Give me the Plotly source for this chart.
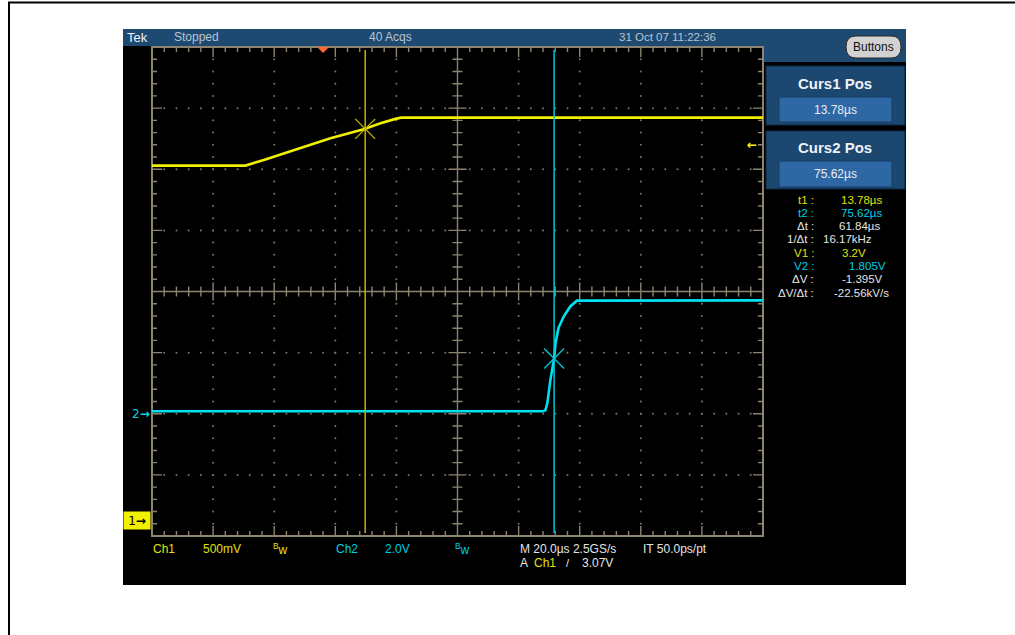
import plotly.graph_objects as go

# ---- captured waveforms -------------------------------------------------
# Channel 1 (yellow, 500 mV/div): time in microseconds, level in volts
ch1_time_us = [-56.0, -25.4, -19.4, -8.5, 2.4, 13.3, 18.8, 23.7, 25.5, 144.0]
ch1_volts = [2.90, 2.90, 2.946, 3.034, 3.124, 3.197, 3.246, 3.282, 3.292, 3.292]

# Channel 2 (cyan, 2.0 V/div)
ch2_time_us = [-56.0, 72.0, 72.8, 73.4, 74.4, 75.6, 76.1, 77.1, 78.8, 80.9, 83.1, 144.0]
ch2_volts = [0.08, 0.08, 0.12, 0.35, 1.10, 1.80, 2.32, 2.82, 3.19, 3.51, 3.70, 3.71]

# Cursors (t1, t2) and the levels they read (V1 on ch1, V2 on ch2)
cursor_times_us = [13.78, 75.62]
cursor_volts = [3.2, 1.805]

# Trigger
trigger_time_us = 0.0
trigger_level_v = 3.07

# Acquisition settings
ch1_v_per_div = 0.5
ch2_v_per_div = 2.0
time_per_div_us = 20.0
acq_count = 40
timestamp = "31 Oct 07 11:22:36"
sample_rate = "2.5GS/s"
interp = "IT 50.0ps/pt"

# ---- axes ---------------------------------------------------------------
X_RANGE = [-56.0, -56.0 + 10 * time_per_div_us]
CH1_RANGE = [-0.13, -0.13 + 8 * ch1_v_per_div]
CH2_RANGE = [-4.0, -4.0 + 8 * ch2_v_per_div]

W, H = 1015, 635
PL, PT, PR, PB = 152, 47, 763, 536          # graticule box in pixels


def px(x):
    return (x - PL) / (PR - PL)


def py(y):
    return (PB - y) / (PB - PT)


def gx(d):
    return X_RANGE[0] + d * (X_RANGE[1] - X_RANGE[0]) / 10


def gy(d):
    return CH1_RANGE[0] + d * (CH1_RANGE[1] - CH1_RANGE[0]) / 8


YEL = "#f0f000"
YEL_TXT = "#e0e010"
YEL_CUR = "#c8b400"
CYN = "#00e0f0"
CYN_TXT = "#00d0e0"
CYN_CUR = "#00c8d8"
WHT = "#e4e4e4"
GRAT = "#8c8470"
BAR = "#1e4a72"
BOX = "#1c4770"
VALBOX = "#2e68a4"
FONT = "Liberation Sans, Arial, sans-serif"

fig = go.Figure()

# dotted division lines
dots_x, dots_y = [], []
for k in range(1, 10):
    if k == 5:
        continue
    for j in range(1, 40):
        dots_x.append(gx(k))
        dots_y.append(gy(j / 5))
for j in range(1, 8):
    if j == 4:
        continue
    for k in range(1, 50):
        dots_x.append(gx(k / 5))
        dots_y.append(gy(j))
fig.add_trace(go.Scatter(x=dots_x, y=dots_y, mode="markers",
                         marker=dict(size=2, color="#7c7662"),
                         hoverinfo="skip", yaxis="y"))

# waveforms
fig.add_trace(go.Scatter(x=ch1_time_us, y=ch1_volts, mode="lines",
                         line=dict(color=YEL, width=2.6), yaxis="y", name="Ch1"))
fig.add_trace(go.Scatter(x=ch2_time_us, y=ch2_volts, mode="lines",
                         line=dict(color=CYN, width=2.6), yaxis="y2", name="Ch2"))

# cursor cross marks
fig.add_trace(go.Scatter(x=[cursor_times_us[0]], y=[cursor_volts[0]], mode="markers",
                         marker=dict(symbol="x-thin", size=20,
                                     line=dict(color=YEL_CUR, width=1.3)),
                         yaxis="y", cliponaxis=False))
fig.add_trace(go.Scatter(x=[cursor_times_us[1]], y=[cursor_volts[1]], mode="markers",
                         marker=dict(symbol="x-thin", size=20,
                                     line=dict(color=CYN_CUR, width=1.3)),
                         yaxis="y2", cliponaxis=False))

shapes = []
# page frame
shapes.append(dict(type="line", xref="paper", yref="paper", x0=px(8), x1=px(1016),
                   y0=py(2.5), y1=py(2.5), line=dict(color="black", width=2)))
shapes.append(dict(type="line", xref="paper", yref="paper", x0=px(9), x1=px(9),
                   y0=py(2), y1=py(636), line=dict(color="black", width=2)))
# scope screen
shapes.append(dict(type="rect", xref="paper", yref="paper", x0=px(123), x1=px(906),
                   y0=py(585), y1=py(29), fillcolor="black", line=dict(width=0),
                   layer="below"))
# title bar and side panel header
shapes.append(dict(type="rect", xref="paper", yref="paper", x0=px(123), x1=px(906),
                   y0=py(46), y1=py(29), fillcolor=BAR, line=dict(width=0), layer="below"))
shapes.append(dict(type="rect", xref="paper", yref="paper", x0=px(764), x1=px(906),
                   y0=py(62), y1=py(45), fillcolor=BAR, line=dict(width=0), layer="below"))
# cursor readout boxes
for top, bot, vtop, vbot in [(66, 125, 97, 122), (131, 189, 161, 187)]:
    shapes.append(dict(type="rect", xref="paper", yref="paper", x0=px(766), x1=px(905),
                       y0=py(bot), y1=py(top), fillcolor=BOX,
                       line=dict(color="#0c2640", width=1), layer="below"))
    shapes.append(dict(type="rect", xref="paper", yref="paper", x0=px(779), x1=px(892),
                       y0=py(vbot), y1=py(vtop), fillcolor=VALBOX,
                       line=dict(color="#163c62", width=1), layer="below"))
# "Buttons" pill
bx0, bx1, by0, by1, r = 846, 901, 36, 58, 10
pill = (f"M{px(bx0 + r)},{py(by0)} L{px(bx1 - r)},{py(by0)} "
        f"Q{px(bx1)},{py(by0)} {px(bx1)},{py((by0 + by1) / 2)} "
        f"Q{px(bx1)},{py(by1)} {px(bx1 - r)},{py(by1)} "
        f"L{px(bx0 + r)},{py(by1)} "
        f"Q{px(bx0)},{py(by1)} {px(bx0)},{py((by0 + by1) / 2)} "
        f"Q{px(bx0)},{py(by0)} {px(bx0 + r)},{py(by0)} Z")
shapes.append(dict(type="path", xref="paper", yref="paper", path=pill,
                   fillcolor="#d2d2d2", line=dict(color="#2a2a2a", width=1)))

# graticule frame, centre cross and ticks
shapes.append(dict(type="rect", xref="paper", yref="paper", x0=0, x1=1, y0=0, y1=1,
                   line=dict(color=GRAT, width=2), layer="below"))
segs = []


def seg(x0, y0, x1, y1):
    segs.append(f"M{x0:.5f},{y0:.5f}L{x1:.5f},{y1:.5f}")


gw, gh = PR - PL, PB - PT
seg(0, 0.5, 1, 0.5)
seg(0.5, 0, 0.5, 1)
for k in range(1, 50):
    x = k / 50
    e = (10 if k % 5 == 0 else 5) / gh
    c = (9 if k % 5 == 0 else 5) / gh
    seg(x, 1, x, 1 - e)
    seg(x, 0, x, e)
    seg(x, 0.5 - c, x, 0.5 + c)
for j in range(1, 40):
    y = j / 40
    e = (10 if j % 5 == 0 else 5) / gw
    c = (9 if j % 5 == 0 else 5) / gw
    seg(0, y, e, y)
    seg(1, y, 1 - e, y)
    seg(0.5 - c, y, 0.5 + c, y)
shapes.append(dict(type="path", xref="paper", yref="paper", path=" ".join(segs),
                   line=dict(color=GRAT, width=1.4), layer="below"))

# cursor lines
for t, col in zip(cursor_times_us, [YEL_CUR, CYN_CUR]):
    shapes.append(dict(type="line", xref="x", yref="paper", x0=t, x1=t,
                       y0=py(533), y1=py(50), line=dict(color=col, width=1.5)))

# trigger position marker: 12 px wide, 6 px tall, hanging from the top edge
us_per_px = (X_RANGE[1] - X_RANGE[0]) / gw
tri_half = 6 * us_per_px
tri_h = 6 / gh
shapes.append(dict(type="path", xref="x", yref="paper",
                   path=f"M{trigger_time_us - tri_half},1 "
                        f"L{trigger_time_us + tri_half},1 "
                        f"L{trigger_time_us},{1 - tri_h} Z",
                   fillcolor="#ff6630", line=dict(width=0)))

# ---- text ---------------------------------------------------------------
ann = []


def text(s, x, y, color=WHT, size=12, xanchor="left", bold=False, **kw):
    if bold:
        s = f"<b>{s}</b>"
    d = dict(text=s, x=px(x), y=py(y), xref="paper", yref="paper",
             xanchor=xanchor, yanchor="middle", showarrow=False,
             font=dict(family=FONT, size=size, color=color))
    d.update(kw)
    ann.append(d)


# title bar
text("Tek", 125, 37.5, color="#eef2f8", size=13)
text("Stopped", 172, 37.5, color="#b8c4d2", size=12)
text(f"{acq_count} Acqs", 390, 37.5, color="#b8c4d2", size=12, xanchor="center")
text(timestamp, 667, 37.5, color="#b8c4d2", size=11.5, xanchor="center")
text("Buttons", (bx0 + bx1) / 2, 47, color="#101010", size=12, xanchor="center")

# cursor position boxes
text("Curs1 Pos", 835, 84, color="#eef2f8", size=15, xanchor="center", bold=True)
text(f"{cursor_times_us[0]:.2f}µs", 835.5, 110, color="#e8eef6", size=12, xanchor="center")
text("Curs2 Pos", 835, 148, color="#eef2f8", size=15, xanchor="center", bold=True)
text(f"{cursor_times_us[1]:.2f}µs", 835.5, 174, color="#e8eef6", size=12, xanchor="center")

# cursor readouts
t1, t2 = cursor_times_us
v1, v2 = cursor_volts
dt = t2 - t1
dv = v2 - v1
readouts = [
    ("t1 :", f"{t1:.2f}µs", YEL_TXT, 839),
    ("t2 :", f"{t2:.2f}µs", CYN_TXT, 839),
    ("Δt :", f"{dt:.2f}µs", WHT, 837),
    ("1/Δt :", f"{1e3 / dt:.2f}kHz", WHT, 821),
    ("V1 :", f"{v1:g}V", YEL_TXT, 840),
    ("V2 :", f"{v2:g}V", CYN_TXT, 847),
    ("ΔV :", f"{dv:.3f}V", WHT, 840),
    ("ΔV/Δt :", f"{dv / dt * 1e3:.2f}kV/s", WHT, 832),
]
for i, (lab, val, col, vx) in enumerate(readouts):
    y = 199.5 + 13.3 * i
    text(lab, 816, y, color=col, size=11.5, xanchor="right")
    text(val, vx, y, color=col, size=11.5)

# channel / timebase readouts
ybot1, ybot2 = 548.5, 562.5
text("Ch1", 151, ybot1, color=YEL_TXT)
text(f"{ch1_v_per_div * 1000:.0f}mV", 201, ybot1, color=YEL_TXT)
text("<sup>B</sup>w", 271, ybot1, color=YEL_TXT)
text("Ch2", 334, ybot1, color=CYN_TXT)
text(f"{ch2_v_per_div:.1f}V", 383, ybot1, color=CYN_TXT)
text("<sup>B</sup>w", 453, ybot1, color=CYN_TXT)
text(f"M {time_per_div_us:.1f}µs {sample_rate}", 518, ybot1)
text(interp, 641, ybot1)
text("A", 518, ybot2)
text("Ch1", 532, ybot2, color=YEL_TXT)
text("/", 564, ybot2, size=11)
text(f"{trigger_level_v:.2f}V", 580, ybot2)

# ground reference markers and trigger level arrow
ann.append(dict(text="2<b>→</b>", x=px(152), y=0, xref="paper", yref="y2",
                xanchor="right", yanchor="middle", showarrow=False,
                font=dict(family="DejaVu Sans", size=12, color=CYN_TXT)))
ann.append(dict(text="1<b>→</b>", x=px(151), y=0, xref="paper", yref="y",
                xanchor="right", yanchor="middle", showarrow=False,
                width=24, height=15, borderpad=1, bgcolor="#f0f000",
                font=dict(family="DejaVu Sans", size=12, color="black")))
ann.append(dict(text="<b>←</b>", x=px(745), y=trigger_level_v, xref="paper", yref="y",
                xanchor="left", yanchor="middle", showarrow=False,
                font=dict(family="DejaVu Sans", size=12, color=YEL)))

fig.update_layout(
    width=W, height=H,
    margin=dict(l=PL, r=W - PR, t=PT, b=H - PB, pad=0),
    paper_bgcolor="white", plot_bgcolor="black",
    showlegend=False,
    xaxis=dict(range=X_RANGE, visible=False, showgrid=False, zeroline=False),
    yaxis=dict(range=CH1_RANGE, visible=False, showgrid=False, zeroline=False),
    yaxis2=dict(range=CH2_RANGE, visible=False, showgrid=False, zeroline=False,
                overlaying="y"),
    shapes=shapes,
    annotations=ann,
)

fig.write_html("out.html")
